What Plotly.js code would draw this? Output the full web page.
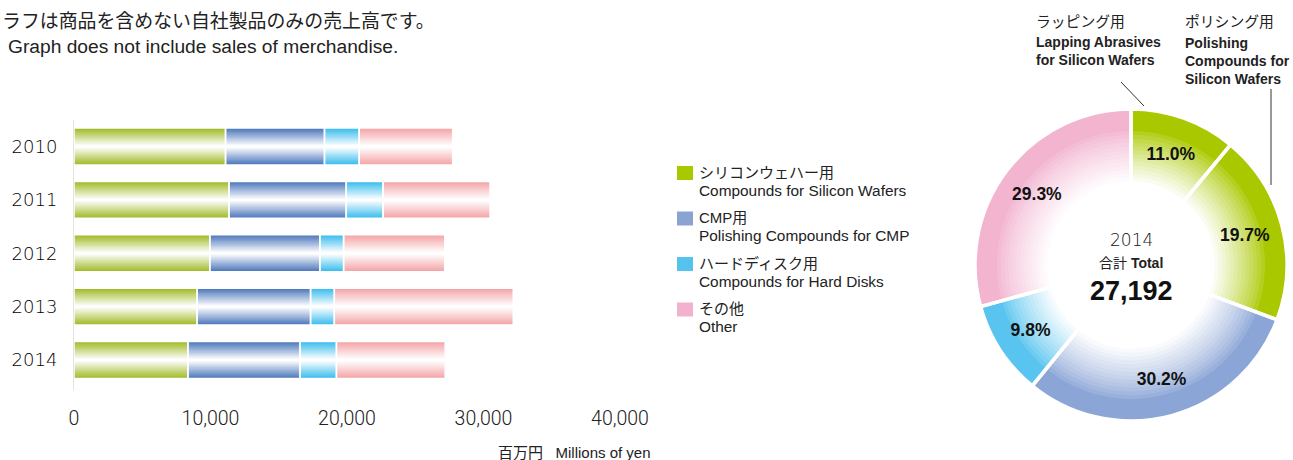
<!DOCTYPE html>
<html><head><meta charset="utf-8">
<script src="https://cdn.plot.ly/plotly-3.0.1.min.js"></script>
<style>html,body{margin:0;padding:0;background:#fff;}#chart{width:1293px;height:460px;}</style>
</head><body><div id="chart"></div>
<script>
// ---- data ----
const years = ['2010', '2011', '2012', '2013', '2014'];
const siliconWafer = [11100, 11350, 9950, 9020, 8348];
const cmp = [7250, 8590, 8060, 8310, 8212];
const hardDisk = [2540, 2700, 1740, 1740, 2665];
const other = [6850, 7840, 7410, 13110, 7967];
const xTickVals = [0, 10000, 20000, 30000, 40000];
const xTickText = ['0', '10,000', '20,000', '30,000', '40,000'];
const legendJp = ['シリコンウェハー用', 'CMP用', 'ハードディスク用', 'その他'];
const legendEn = ['Compounds for Silicon Wafers', 'Polishing Compounds for CMP', 'Compounds for Hard Disks', 'Other'];
const donutLabels = ['ラッピング用', 'ポリシング用', 'CMP用', 'ハードディスク用', 'その他'];
const donutShares = [11.0, 19.7, 30.2, 9.8, 29.3];
const donutYear = '2014';
const donutTotal = 27192;

// ---- helpers ----
const W = 1293, H = 460;
const px = x => x / W, py = y => 1 - y / H;
function mix(hex, t) {
  const r = parseInt(hex.slice(1, 3), 16), g = parseInt(hex.slice(3, 5), 16), b = parseInt(hex.slice(5, 7), 16);
  const f = c => Math.round(c + (255 - c) * t);
  return 'rgb(' + f(r) + ',' + f(g) + ',' + f(b) + ')';
}

const series = [siliconWafer, cmp, hardDisk, other];
const barColors = ['#a0bb28', '#4e78bc', '#3bbdee', '#f4a4a7'];
const legendColors = ['#a8c800', '#8ba3d3', '#56c3ee', '#f2b2cf'];
const donutColors = ['#aac800', '#aac800', '#8ba5d6', '#59c4ef', '#f3b4d0'];

const traces = [];
let cum = years.map(() => 0);
const bases = series.map(s => { const b = cum.slice(); cum = cum.map((c, i) => c + s[i]); return b; });
const BW = 0.69, N = 14;
series.forEach((s, si) => {
  for (let k = 0; k <= N; k++) {
    traces.push({
      type: 'bar', orientation: 'h', y: years, x: s, base: bases[si],
      width: BW * (1 - k / (N + 1)),
      marker: { color: mix(barColors[si], k / N), line: { width: 0 } },
      hoverinfo: 'skip', showlegend: false
    });
  }
});
series.forEach((s, si) => {
  traces.push({
    type: 'bar', orientation: 'h', y: years, x: s, base: bases[si], width: BW,
    marker: { color: 'rgba(0,0,0,0)', line: { width: 1.5, color: '#ffffff' } },
    hoverinfo: 'skip', showlegend: false
  });
});

// ---- donut ----
const cx = 1131, cy = 265, R = 156, Rin = 80, Rfull = 134, M = 14;
const dom = r => ({ x: [px(cx - r), px(cx + r)], y: [py(cy + r), py(cy - r)] });
const pieBase = {
  type: 'pie', labels: donutLabels, values: donutShares, sort: false,
  direction: 'clockwise', rotation: 0, textinfo: 'none', hoverinfo: 'skip', showlegend: false
};
traces.push(Object.assign({}, pieBase, { hole: Rin / R, domain: dom(R), marker: { colors: donutColors, line: { width: 0 } } }));
for (let k = 1; k <= M; k++) {
  const r = Rfull - (k - 1) / M * (Rfull - Rin);
  traces.push(Object.assign({}, pieBase, {
    hole: Rin / r, domain: dom(r),
    marker: { colors: donutColors.map(c => mix(c, Math.pow(k / M, 0.8))), line: { width: 0 } }
  }));
}
traces.push(Object.assign({}, pieBase, {
  hole: Rin / R, domain: dom(R),
  marker: { colors: donutColors.map(() => 'rgba(0,0,0,0)'), line: { width: 3.5, color: '#ffffff' } },
  textinfo: 'text', text: donutShares.map(v => '<b>' + v.toFixed(1) + '%</b>'),
  textposition: 'inside', insidetextorientation: 'horizontal',
  textfont: { family: 'Liberation Sans, Arial, sans-serif', size: 17.5, color: '#111111' }
}));

// ---- annotations ----
const JP = 'Liberation Sans, Noto Sans CJK JP, sans-serif';
const ann = [];
function t(text, x, y, size, opts) {
  ann.push(Object.assign({
    text: text, xref: 'paper', yref: 'paper', x: px(x), y: py(y), showarrow: false,
    xanchor: 'left', yanchor: 'middle', align: 'left',
    font: { family: JP, size: size, color: '#222222' }
  }, opts || {}));
}
t('ラフは商品を含めない自社製品のみの売上高です。', 0, 20, 19, { font: { family: 'Noto Sans CJK JP, sans-serif', size: 18.9, color: '#222' } });
t('Graph does not include sales of merchandise.', 6, 47, 19.2);
legendJp.forEach((s, i) => {
  t(s, 697, 172 + 45.5 * i, 15);
  t(legendEn[i], 697, 190 + 45.5 * i, 15.4);
});
t('百万円\u00a0\u00a0\u00a0Millions of yen', 653, 452, 15, { xanchor: 'right', align: 'right' });
t(donutYear, cx, 240, 17, { xanchor: 'center', align: 'center', font: { family: 'DejaVu Sans, sans-serif', size: 17, color: '#111', weight: 300 } });
t('合計 <b>Total</b>', cx, 263, 14, { xanchor: 'center', align: 'center' });
t('<b>' + donutTotal.toLocaleString('en-US') + '</b>', cx, 291, 27, { xanchor: 'center', align: 'center', font: { family: JP, size: 27, color: '#111' } });
t(donutLabels[0], 1034, 22, 14.8);
t('<b>Lapping Abrasives<br>for Silicon Wafers</b>', 1034, 51, 14);
t(donutLabels[1], 1183, 22, 14.8);
t('<b>Polishing<br>Compounds for<br>Silicon Wafers</b>', 1183, 61, 14);

const shapes = legendColors.map((c, i) => ({
  type: 'rect', xref: 'paper', yref: 'paper',
  x0: px(677), x1: px(693), y0: py(166 + 45.5 * i), y1: py(180 + 45.5 * i),
  fillcolor: c, line: { width: 0 }
}));
shapes.push({ type: 'line', xref: 'paper', yref: 'paper', x0: px(1121), y0: py(82), x1: px(1144), y1: py(106), line: { color: '#333', width: 1 } });
shapes.push({ type: 'line', xref: 'paper', yref: 'paper', x0: px(1271), y0: py(89), x1: px(1271), y1: py(185), line: { color: '#333', width: 1 } });

const layout = {
  width: W, height: H, margin: { l: 0, r: 0, t: 0, b: 0 },
  paper_bgcolor: '#fff', plot_bgcolor: 'rgba(0,0,0,0)',
  barmode: 'overlay', showlegend: false,
  xaxis: {
    domain: [px(74), px(620)], range: [0, 40000], anchor: 'y',
    tickvals: xTickVals, ticktext: xTickText, ticks: '', showgrid: false, zeroline: false, showline: false,
    ticklabelstandoff: 14,
    tickfont: { family: 'Roboto, Liberation Sans, sans-serif', size: 19.5, color: '#222', weight: 300 }
  },
  xaxis2: {
    domain: [px(74), px(620)], range: [0, 40000], anchor: 'y', overlaying: 'x', side: 'bottom',
    tickvals: xTickVals.slice(1), showticklabels: false, ticks: 'outside', ticklen: 6, tickcolor: '#555', tickwidth: 1,
    showgrid: false, zeroline: false, showline: false
  },
  yaxis: {
    domain: [py(390), py(119.8)], type: 'category', categoryarray: years, categoryorder: 'array',
    range: [4.562, -0.5], autorange: false, ticks: '', showgrid: false, zeroline: false,
    showline: true, linecolor: '#e4e4e4', linewidth: 1, ticklabelstandoff: 12,
    tickfont: { family: 'DejaVu Sans, sans-serif', size: 18, color: '#000', weight: 300 }
  },
  annotations: ann, shapes: shapes
};
Plotly.newPlot('chart', traces, layout, { displayModeBar: false, staticPlot: true });
</script></body></html>
